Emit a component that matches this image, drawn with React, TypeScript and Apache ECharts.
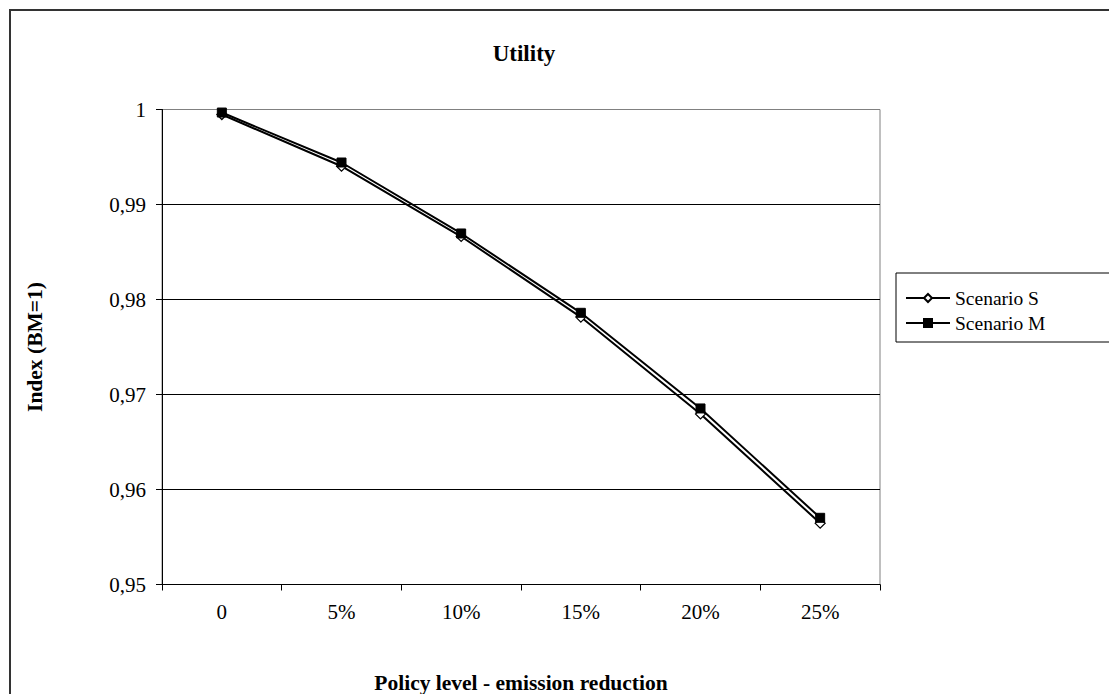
import React, { useEffect, useRef } from "react";
import * as echarts from "echarts";

const categories = ["0", "5%", "10%", "15%", "20%", "25%"];
const scenarioS = [0.99947, 0.99403, 0.98663, 0.97815, 0.96795, 0.95645];
const scenarioM = [0.99968, 0.99442, 0.98695, 0.9786, 0.96853, 0.95702];
const yTicks = { min: 0.95, max: 1, interval: 0.01 };

const FONT = "'Liberation Serif', 'Times New Roman', serif";

export default function App() {
  const ref = useRef<HTMLDivElement>(null);
  useEffect(() => {
    if (!ref.current) return;
    const chart = echarts.init(ref.current, null, { renderer: "svg" });
    chart.setOption({
      animation: false,
      backgroundColor: "#fff",
      textStyle: { fontFamily: FONT, color: "#000" },
      title: {
        text: "Utility",
        left: 519,
        top: 37,
        textAlign: "center",
        textStyle: { fontFamily: FONT, fontSize: 23, fontWeight: "bold", color: "#000" },
      },
      graphic: [
        {
          type: "rect",
          shape: { x: 10, y: 10, width: 1300, height: 900 },
          style: { fill: "none", stroke: "#333", lineWidth: 2 },
          silent: true,
          z: 100,
        },
      ],
      legend: {
        orient: "vertical",
        left: 896,
        top: 273,
        padding: [15, 68, 9, 9],
        itemGap: 5,
        itemWidth: 44,
        itemHeight: 10,
        borderColor: "#000",
        borderWidth: 1,
        textStyle: { fontFamily: FONT, fontSize: 19.5, color: "#000" },
        data: ["Scenario S", "Scenario M"],
      },
      grid: {
        left: 162,
        width: 718,
        top: 109.5,
        height: 475,
        outerBoundsMode: "none",
        containLabel: false,
        show: true,
        borderColor: "#808080",
        borderWidth: 1,
        backgroundColor: "#fff",
      },
      xAxis: {
        type: "category",
        data: categories,
        boundaryGap: true,
        name: "Policy level - emission reduction",
        nameLocation: "middle",
        nameGap: 87,
        nameTextStyle: { fontFamily: FONT, fontSize: 21.5, fontWeight: "bold", color: "#000" },
        axisLine: { lineStyle: { color: "#000", width: 1 } },
        axisTick: { show: true, interval: 0, length: 6, lineStyle: { color: "#000" } },
        axisLabel: { fontFamily: FONT, fontSize: 21, color: "#000", margin: 17, interval: 0 },
        splitLine: { show: false },
      },
      yAxis: {
        type: "value",
        min: yTicks.min,
        max: yTicks.max,
        interval: yTicks.interval,
        name: "Index (BM=1)",
        nameLocation: "middle",
        nameGap: 116,
        nameRotate: 90,
        nameTextStyle: { fontFamily: FONT, fontSize: 21.5, fontWeight: "bold", color: "#000" },
        axisLine: { show: true, lineStyle: { color: "#000", width: 1 } },
        axisTick: { show: true, length: 6, lineStyle: { color: "#000" } },
        axisLabel: {
          fontFamily: FONT,
          fontSize: 21,
          color: "#000",
          margin: 16,
          formatter: (v: number) =>
            Math.abs(v - 1) < 1e-9 ? "1" : v.toFixed(2).replace(".", ","),
        },
        splitLine: {
          show: true,
          lineStyle: { color: ["#000", "#000", "#000", "#000", "#000", "#808080"], width: 1 },
        },
      },
      series: [
        {
          name: "Scenario S",
          type: "line",
          data: scenarioS,
          symbol: "diamond",
          symbolSize: 10,
          showAllSymbol: true,
          lineStyle: { color: "#000", width: 2 },
          itemStyle: { color: "#fff", borderColor: "#000", borderWidth: 1.2 },
          z: 2,
        },
        {
          name: "Scenario M",
          type: "line",
          data: scenarioM,
          symbol: "rect",
          symbolSize: 9,
          showAllSymbol: true,
          lineStyle: { color: "#000", width: 2 },
          itemStyle: { color: "#000", borderColor: "#000", borderWidth: 1 },
          z: 3,
        },
      ],
    });
    return () => chart.dispose();
  }, []);
  return (
    <div
      ref={ref}
      style={{ position: "fixed", left: 0, top: 0, width: 1109, height: 694 }}
    />
  );
}
